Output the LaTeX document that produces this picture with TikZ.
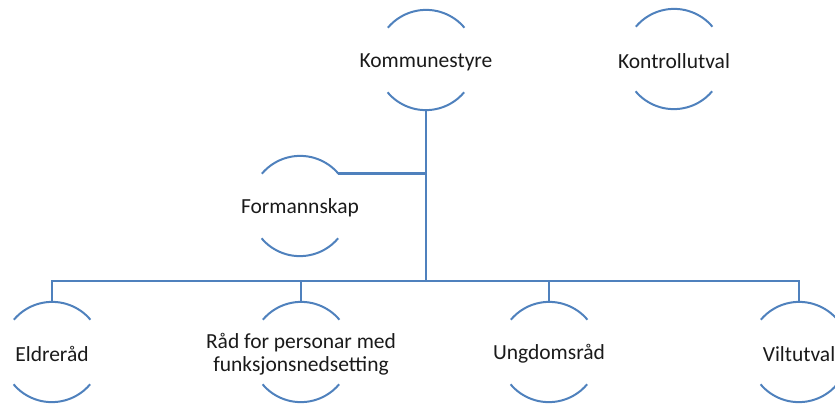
\documentclass[tikz,border=0pt]{standalone}
\usepackage{fontspec}
\setmainfont{Carlito}
\definecolor{lineblue}{HTML}{4F81BD}
\definecolor{txt}{HTML}{1A1A1A}
\tikzset{
  ring/.style={circle, minimum size=100pt, inner sep=0pt},
  lbl/.style={inner sep=0pt, yshift=-2pt, text=txt, font=\fontsize{21.5}{23}\selectfont, align=center},
  arcline/.style={draw=lineblue, line width=2pt},
  conn/.style={draw=lineblue, line width=2.6pt}
}
\begin{document}
\begin{tikzpicture}[x=1pt,y=-1pt]
\useasboundingbox (0,0) rectangle (835,405);
\node[ring] (k) at (426,60) {};
\node[ring] (c) at (674,59) {};
\node[ring] (f) at (300,206) {};
\node[ring] (e) at (52,352) {};
\node[ring] (r) at (301,352) {};
\node[ring] (u) at (549,352) {};
\node[ring] (v) at (799,352) {};
\node[lbl] (kt) at (k) {Kommunestyre};
\node[lbl] (ct) at (c) {Kontrollutval};
\node[lbl] (ft) at (f) {Formannskap};
\node[lbl] (et) at (e) {Eldreråd};
\node[lbl] (rt) at (r) {Råd for personar med\\funksjonsnedsetting};
\node[lbl] (ut) at (u) {Ungdomsråd};
\node[lbl] (vt) at (v) {Viltutval};
\foreach \n in {k,c,f,e,r,u,v}{
  \draw[arcline] (\n.40) arc[start angle=40, end angle=140, radius=50pt];
  \draw[arcline] (\n.-140) arc[start angle=-140, end angle=-40, radius=50pt];
}
\coordinate (bus) at (426,281);
\draw[conn] (k.south) -- (bus);
\draw[conn] (f.40) -- (f.40 -| k.south);
\draw[conn] (e.north) -- (e.north |- bus) -- (v.north |- bus) -- (v.north);
\draw[conn] (r.north) -- (r.north |- bus);
\draw[conn] (u.north) -- (u.north |- bus);
\end{tikzpicture}
\end{document}
